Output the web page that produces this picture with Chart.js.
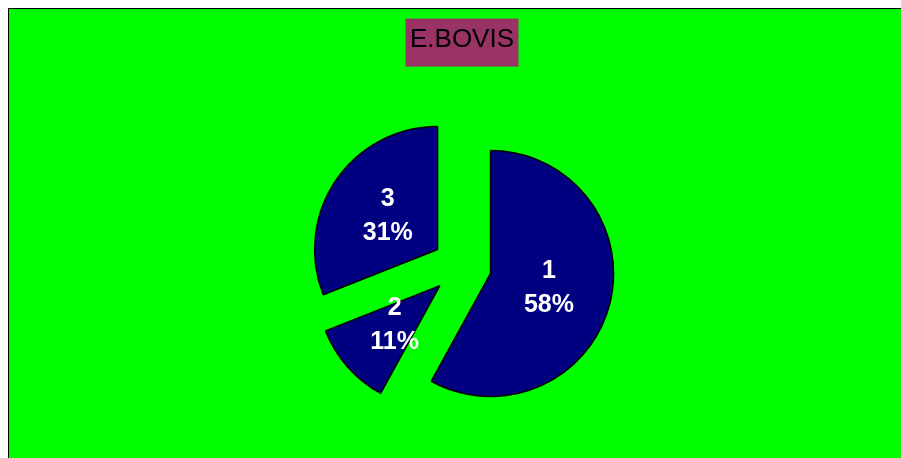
<!DOCTYPE html>
<html lang="en">
<head>
<meta charset="UTF-8">
<title>E.BOVIS</title>
<style>
    html, body {
        margin: 0;
        padding: 0;
        overflow: hidden;
        background-color: #fff;
    }
    .frame {
        position: absolute;
        left: 8px;
        top: 8px;
        width: 892px;
        height: 449px;
        border-left: 1px solid #000;
        border-top: 1px solid #000;
        background-color: #00ff00;
    }
    canvas {
        display: block;
    }
</style>
</head>
<body>

<div class="frame">
    <canvas id="pieChart" width="892" height="449"></canvas>
</div>

<script src="https://cdn.jsdelivr.net/npm/chart.js"></script>
<script>
    // chart data
    const categories = ['1', '2', '3'];
    const shares = [58, 11, 31];
    const chartTitle = 'E.BOVIS';

    const fontFamily = '"Liberation Sans", Arial, sans-serif';
    const pieRadius = 123;
    const explodeDist = 29.5;
    const titlePadTop = 15;

    // pull every slice out along its middle angle
    const explodePlugin = {
        id: 'explode',
        beforeDatasetsDraw(chart) {
            chart.getDatasetMeta(0).data.forEach(arc => {
                const mid = (arc.startAngle + arc.endAngle) / 2;
                arc.x += Math.cos(mid) * explodeDist;
                arc.y += Math.sin(mid) * explodeDist;
            });
        },
        afterDatasetsDraw(chart) {
            const ctx = chart.ctx;
            const total = shares.reduce((a, b) => a + b, 0);
            ctx.save();
            ctx.fillStyle = '#fff';
            ctx.font = 'bold 25px ' + fontFamily;
            ctx.textAlign = 'center';
            ctx.textBaseline = 'middle';
            chart.getDatasetMeta(0).data.forEach((arc, i) => {
                const mid = (arc.startAngle + arc.endAngle) / 2;
                const r = arc.outerRadius * 0.49;
                const x = arc.x + Math.cos(mid) * r;
                const y = arc.y + Math.sin(mid) * r;
                const pct = Math.round(shares[i] / total * 100) + '%';
                ctx.fillText(categories[i], x, y - 17);
                ctx.fillText(pct, x, y + 17);
                // put the arc back where the library left it
                arc.x -= Math.cos(mid) * explodeDist;
                arc.y -= Math.sin(mid) * explodeDist;
            });
            ctx.restore();
        }
    };

    // maroon box behind the title
    const titleBoxPlugin = {
        id: 'titleBox',
        beforeDraw(chart) {
            const tb = chart.titleBlock;
            if (!tb) return;
            const ctx = chart.ctx;
            ctx.save();
            ctx.font = '26px ' + fontFamily;
            const w = ctx.measureText(chartTitle).width;
            const cx = (tb.left + tb.right) / 2;
            const midY = tb.top + titlePadTop + 26 * 1.2 / 2;
            ctx.fillStyle = '#993366';
            ctx.fillRect(cx - w / 2 - 4.5, midY - 21, w + 9, 48);
            ctx.restore();
        }
    };

    const pieData = {
        labels: categories,
        datasets: [{
            data: shares,
            backgroundColor: '#000080',
            borderColor: '#000',
            borderWidth: 1.5
        }]
    };

    const pieConfig = {
        type: 'pie',
        data: pieData,
        options: {
            responsive: false,
            animation: false,
            events: [],
            radius: pieRadius,
            layout: {
                padding: { left: 14, right: 0, top: 0, bottom: 0 }
            },
            plugins: {
                legend: { display: false },
                tooltip: { enabled: false },
                title: {
                    display: true,
                    text: chartTitle,
                    color: '#000',
                    font: { family: fontFamily, size: 26, weight: 'normal' },
                    padding: { top: titlePadTop, bottom: 19 }
                }
            }
        },
        plugins: [titleBoxPlugin, explodePlugin]
    };

    const ctx = document.getElementById('pieChart').getContext('2d');
    const pieChart = new Chart(ctx, pieConfig);
</script>

</body>
</html>
